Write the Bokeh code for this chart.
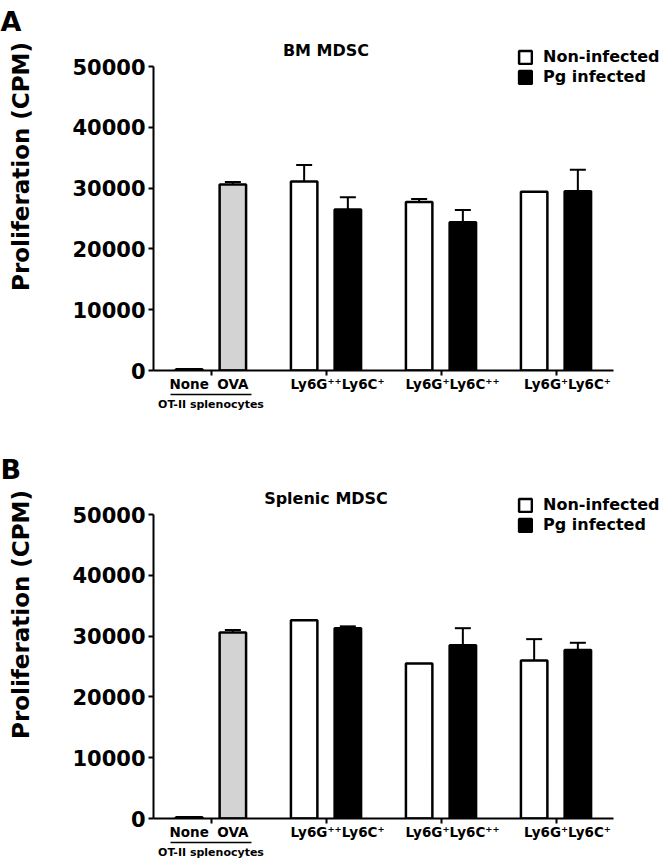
import numpy as np
from bokeh.plotting import figure
from bokeh.models import (ColumnDataSource, FixedTicker, LinearAxis, Range1d, Whisker,
                          TeeHead, Legend, LegendItem, Label, Title, BasicTickFormatter)
from bokeh.layouts import column, row
from bokeh.embed import file_html
from bokeh.resources import INLINE

# ---------------- data ----------------
group_labels = ["Ly6G⁺⁺Ly6C⁺", "Ly6G⁺Ly6C⁺⁺", "Ly6G⁺Ly6C⁺"]
ctrl_labels = ["None", "OVA"]
ctrl_group_label = "OT-II splenocytes"
series_names = ["Non-infected", "Pg infected"]
y_title = "Proliferation (CPM)"
y_ticks = [0, 10000, 20000, 30000, 40000, 50000]
y_axis_max = 50000

bm_ctrl = [200, 30600]
bm_ctrl_err = [0, 400]
bm_non = [31100, 27700, 29400]
bm_non_err = [2700, 500, 0]
bm_pg = [26500, 24400, 29500]
bm_pg_err = [2000, 2000, 3500]

sp_ctrl = [200, 30600]
sp_ctrl_err = [0, 400]
sp_non = [32600, 25500, 26000]
sp_non_err = [0, 0, 3500]
sp_pg = [31300, 28500, 27700]
sp_pg_err = [300, 2800, 1200]

# ---------------- style / layout ----------------
FONT = "DejaVu Sans"
OFF = 0.19          # dodge of the two bars of a group
BAR_W = 0.23
LABEL_SHIFT = 0.1
WIDTH = 666
SIDE_W = 40         # strip holding panel letter and y title
LEFT = 153 - SIDE_W
PX_PER_UNIT = 115   # x scale
AXIS_PX = 304       # pixels from 0 to y_axis_max
TOP = 36
FRAME_H = 334       # frame extends above the axis to hold title and legend
YTITLE_CENTER = 166  # from the figure top


def side_strip(letter, height):
    s = figure(width=SIDE_W, height=height, x_range=Range1d(0, 1), y_range=Range1d(0, 1),
               output_backend="svg", toolbar_location=None,
               x_axis_location=None, y_axis_location=None,
               min_border_left=0, min_border_right=0, min_border_top=TOP,
               min_border_bottom=height - TOP - FRAME_H)
    s.outline_line_color = None
    s.grid.visible = False
    s.add_layout(Title(text=letter, align="left", offset=0, text_font=FONT,
                       text_font_style="bold", text_font_size="27px", text_color="black",
                       standoff=0), "above")
    s.add_layout(Label(x=SIDE_W / 2, y=TOP + FRAME_H - YTITLE_CENTER, x_units="screen",
                       y_units="screen", angle=np.pi / 2, text=y_title,
                       text_align="center", text_baseline="middle", text_font=FONT,
                       text_font_style="bold", text_font_size="23px", text_color="black"))
    return s


def make_panel(title, ctrl, ctrl_err, non, non_err, pg, pg_err, height):
    n = len(group_labels)
    fig_w = WIDTH - SIDE_W
    x_end = -0.5 + (fig_w - LEFT) / PX_PER_UNIT
    y_end = y_axis_max * FRAME_H / AXIS_PX
    p = figure(width=fig_w, height=height, x_range=Range1d(-0.5, x_end),
               y_range=Range1d(0, y_end),
               output_backend="svg", toolbar_location=None,
               min_border_left=LEFT, min_border_right=0, min_border_top=TOP,
               min_border_bottom=height - TOP - FRAME_H)
    p.outline_line_color = None
    p.xgrid.visible = False
    p.ygrid.visible = False

    ctrl_x = [0 - OFF, 0 + OFF]
    non_x = [i + 1 - OFF for i in range(n)]
    pg_x = [i + 1 + OFF for i in range(n)]

    p.vbar(x=ctrl_x, top=ctrl, width=BAR_W, fill_color=["white", "#d3d3d3"],
           line_color="black", line_width=2.5)
    r_non = p.vbar(x=non_x, top=non, width=BAR_W, fill_color="white",
                   line_color="black", line_width=2.5)
    r_pg = p.vbar(x=pg_x, top=pg, width=BAR_W, fill_color="black",
                  line_color="black", line_width=2.5)

    wx, wl, wu = [], [], []
    for xs, vals, errs in ((ctrl_x, ctrl, ctrl_err), (non_x, non, non_err), (pg_x, pg, pg_err)):
        for x, v, e in zip(xs, vals, errs):
            if e > 0:
                wx.append(x); wl.append(v); wu.append(v + e)
    wsrc = ColumnDataSource(dict(base=wx, lower=wl, upper=wu))
    p.add_layout(Whisker(source=wsrc, base="base", lower="lower", upper="upper",
                         dimension="height", line_width=2, line_color="black",
                         lower_head=None,
                         upper_head=TeeHead(size=16, line_width=2, line_color="black")))

    # y axis
    yax = p.yaxis[0]
    yax.ticker = FixedTicker(ticks=y_ticks)
    yax.bounds = (0, y_axis_max)
    yax.formatter = BasicTickFormatter(use_scientific=False)
    yax.minor_tick_line_color = None
    yax.major_tick_out = 5
    yax.major_tick_in = 0
    yax.major_tick_line_width = 2
    yax.axis_line_width = 2
    yax.major_label_standoff = 3
    yax.major_label_text_font = FONT
    yax.major_label_text_font_style = "bold"
    yax.major_label_text_font_size = "21px"
    yax.major_label_text_color = "black"

    # x axis: line + ticks only
    xax = p.xaxis[0]
    ticks = list(range(n + 1))
    xax.ticker = FixedTicker(ticks=ticks)
    xax.bounds = (-0.5, n + 0.5)
    xax.major_label_overrides = {t: "" for t in ticks}
    xax.major_label_text_font_size = "0px"
    xax.major_label_standoff = 0
    xax.minor_tick_line_color = None
    xax.major_tick_out = 5
    xax.major_tick_in = 0
    xax.major_tick_line_width = 2
    xax.axis_line_width = 2

    # x labels axis
    lab_ticks = ctrl_x + [i + 1 + LABEL_SHIFT for i in range(n)]
    lab_text = ctrl_labels + group_labels
    lab_ax = LinearAxis(ticker=FixedTicker(ticks=lab_ticks),
                        major_label_overrides=dict(zip(lab_ticks, lab_text)),
                        axis_line_color=None, major_tick_line_color=None,
                        minor_tick_line_color=None, major_tick_out=0, major_tick_in=0,
                        major_label_standoff=0, major_label_text_font=FONT,
                        major_label_text_font_style="bold",
                        major_label_text_font_size="13.5px", major_label_text_color="black")
    p.add_layout(lab_ax, "below")

    # OT-II group axis with underline
    grp_ax = LinearAxis(ticker=FixedTicker(ticks=[0]), bounds=(-0.35, 0.35),
                        major_label_overrides={0: ctrl_group_label},
                        axis_line_width=1.5, major_tick_line_color=None,
                        minor_tick_line_color=None, major_tick_out=0, major_tick_in=0,
                        major_label_standoff=3, major_label_text_font=FONT,
                        major_label_text_font_style="bold",
                        major_label_text_font_size="11px", major_label_text_color="black")
    p.add_layout(grp_ax, "below")

    # panel title (inside the extended frame)
    p.add_layout(Label(x=n * PX_PER_UNIT / 2, y=FRAME_H - 14, x_units="screen", y_units="screen",
                       text=title, text_align="center", text_baseline="middle",
                       text_font=FONT, text_font_style="bold", text_font_size="16px",
                       text_color="black"))

    legend = Legend(items=[LegendItem(label=series_names[0], renderers=[r_non]),
                           LegendItem(label=series_names[1], renderers=[r_pg])],
                    location=(364, FRAME_H - 50), glyph_width=16, glyph_height=16,
                    label_height=16, spacing=1, padding=0, margin=0, border_line_color=None,
                    background_fill_alpha=0, label_standoff=10,
                    label_text_font=FONT, label_text_font_style="bold",
                    label_text_font_size="16px", label_text_color="black")
    p.add_layout(legend, "center")
    return p


HA, HB = 448, 414
pa = make_panel("BM MDSC", bm_ctrl, bm_ctrl_err, bm_non, bm_non_err, bm_pg, bm_pg_err, HA)
pb = make_panel("Splenic MDSC", sp_ctrl, sp_ctrl_err, sp_non, sp_non_err, sp_pg, sp_pg_err, HB)

layout = column(row(side_strip("A", HA), pa, spacing=0),
                row(side_strip("B", HB), pb, spacing=0), spacing=0)
open("out.html", "w").write(file_html(layout, INLINE))
